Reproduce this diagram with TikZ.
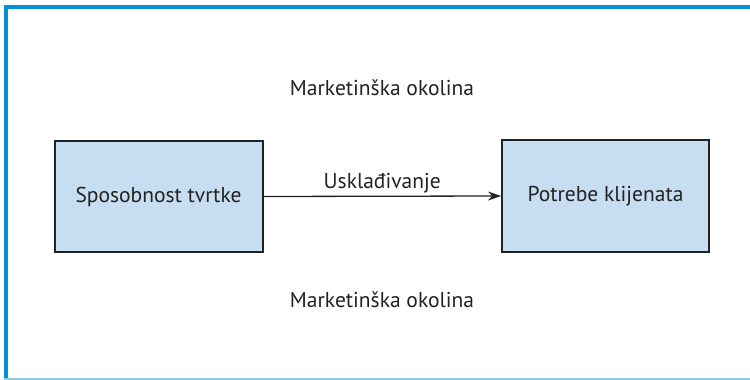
\documentclass[tikz,border=0pt]{standalone}
\usepackage{fontspec}
\setmainfont{PT Sans}
\usetikzlibrary{arrows.meta}
\definecolor{framebl}{HTML}{0090D6}
\definecolor{framelt}{HTML}{90C8E6}
\definecolor{boxfill}{HTML}{C7DDF1}
\definecolor{boxline}{HTML}{222222}
\tikzset{
  box/.style={draw=boxline, line width=2pt, fill=boxfill, minimum width=208pt, minimum height=111pt, inner sep=0pt, font=\fontsize{21.5}{24}\selectfont, text=boxline},
  lbl/.style={font=\fontsize{21.5}{24}\selectfont, text=boxline, inner sep=0pt},
  conn/.style={draw=boxline, line width=1.3pt, -{Stealth[length=13pt, width=9pt]}}
}
\begin{document}
\begin{tikzpicture}[x=1pt, y=-1pt]
  \useasboundingbox (0,0) rectangle (750,380);
  % outer frame
  \fill[framebl] (4,5) rectangle (750,9);
  \fill[framebl] (4,5) rectangle (8,380);
  \draw[framelt, line width=1.5pt] (4,379) -- (750,379);
  % boxes
  \node[box] (firm) at (158.5,196.5) {Sposobnost tvrtke};
  \node[box, minimum width=207pt, minimum height=112pt] (cust) at (605.5,196) {Potrebe klijenata};
  % connector
  \draw[conn] (firm.east) -- node[lbl, above=3pt] (align) {Usklađivanje} (cust.west);
  % environment labels
  \node[lbl] (envtop) at (382,88) {Marketinška okolina};
  \node[lbl] (envbot) at (382,300) {Marketinška okolina};
\end{tikzpicture}
\end{document}
